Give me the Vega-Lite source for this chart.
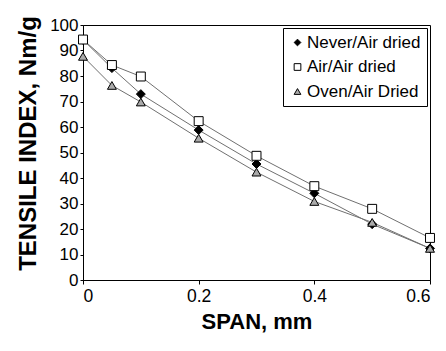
{
  "$schema": "https://vega.github.io/schema/vega-lite/v6.json",
  "autosize": "none",
  "width": 347,
  "height": 255,
  "padding": {"left": 83, "top": 25, "right": 16, "bottom": 71},
  "background": "white",
  "config": {
    "font": "Liberation Sans",
    "view": {"stroke": "black", "strokeWidth": 1}
  },
  "data": {
    "values": [
      {"span": 0, "series": "Never/Air dried", "ti": 94.2},
      {"span": 0.05, "series": "Never/Air dried", "ti": 83.1},
      {"span": 0.1, "series": "Never/Air dried", "ti": 72.9},
      {"span": 0.2, "series": "Never/Air dried", "ti": 58.8},
      {"span": 0.3, "series": "Never/Air dried", "ti": 45.5},
      {"span": 0.4, "series": "Never/Air dried", "ti": 34.0},
      {"span": 0.5, "series": "Never/Air dried", "ti": 21.9},
      {"span": 0.6, "series": "Never/Air dried", "ti": 12.4},
      {"span": 0, "series": "Air/Air dried", "ti": 94.3},
      {"span": 0.05, "series": "Air/Air dried", "ti": 84.3},
      {"span": 0.1, "series": "Air/Air dried", "ti": 79.8},
      {"span": 0.2, "series": "Air/Air dried", "ti": 62.3},
      {"span": 0.3, "series": "Air/Air dried", "ti": 48.7},
      {"span": 0.4, "series": "Air/Air dried", "ti": 36.8},
      {"span": 0.5, "series": "Air/Air dried", "ti": 27.9},
      {"span": 0.6, "series": "Air/Air dried", "ti": 16.5},
      {"span": 0, "series": "Oven/Air Dried", "ti": 87.7},
      {"span": 0.05, "series": "Oven/Air Dried", "ti": 76.3},
      {"span": 0.1, "series": "Oven/Air Dried", "ti": 69.8},
      {"span": 0.2, "series": "Oven/Air Dried", "ti": 55.6},
      {"span": 0.3, "series": "Oven/Air Dried", "ti": 42.3},
      {"span": 0.4, "series": "Oven/Air Dried", "ti": 30.8},
      {"span": 0.5, "series": "Oven/Air Dried", "ti": 22.6},
      {"span": 0.6, "series": "Oven/Air Dried", "ti": 12.4}
    ]
  },
  "encoding": {
    "x": {
      "field": "span", "type": "quantitative",
      "scale": {"domain": [0, 0.6], "nice": false},
      "axis": {
        "values": [0, 0.2, 0.4, 0.6], "format": "~g", "grid": false,
        "title": "SPAN, mm", "titleFontSize": 22, "titleFontWeight": "bold", "titleColor": "black",
        "labelFontSize": 17.5, "labelColor": "black",
        "domainColor": "black", "tickColor": "black", "tickSize": 4, "labelPadding": 3,
        "titlePadding": 7
      }
    },
    "y": {
      "field": "ti", "type": "quantitative",
      "scale": {"domain": [0, 100], "nice": false},
      "axis": {
        "values": [0, 10, 20, 30, 40, 50, 60, 70, 80, 90, 100], "grid": false,
        "title": "TENSILE INDEX, Nm/g", "titleFontSize": 24, "titleFontWeight": "bold", "titleColor": "black",
        "labelFontSize": 17, "labelColor": "black",
        "domainColor": "black", "tickColor": "black", "tickSize": 3, "labelPadding": 2,
        "titlePadding": 9, "titleY": 118
      }
    }
  },
  "layer": [
    {
      "mark": {"type": "line", "color": "#707070", "strokeWidth": 1},
      "encoding": {"detail": {"field": "series"}}
    },
    {
      "mark": {"type": "point", "filled": true, "strokeWidth": 1, "opacity": 1, "size": 80},
      "encoding": {
        "shape": {
          "field": "series", "type": "nominal",
          "scale": {"domain": ["Never/Air dried", "Air/Air dried", "Oven/Air Dried"], "range": ["diamond", "square", "triangle-up"]},
          "legend": {
            "title": null, "orient": "none", "legendX": 200, "legendY": 3,
            "strokeColor": "black", "fillColor": "white", "padding": 6,
            "labelFontSize": 17, "labelColor": "black", "symbolSize": 45,
            "symbolStrokeWidth": 1, "rowPadding": 6.5, "labelOffset": 1,
            "encode": {"symbols": {"update": {"size": {"value": 45}}}}
          }
        },
        "fill": {
          "field": "series", "type": "nominal",
          "scale": {"domain": ["Never/Air dried", "Air/Air dried", "Oven/Air Dried"], "range": ["black", "white", "#aaaaaa"]}
        },
        "stroke": {
          "field": "series", "type": "nominal",
          "scale": {"domain": ["Never/Air dried", "Air/Air dried", "Oven/Air Dried"], "range": ["black", "black", "black"]}
        }
      }
    }
  ]
}
